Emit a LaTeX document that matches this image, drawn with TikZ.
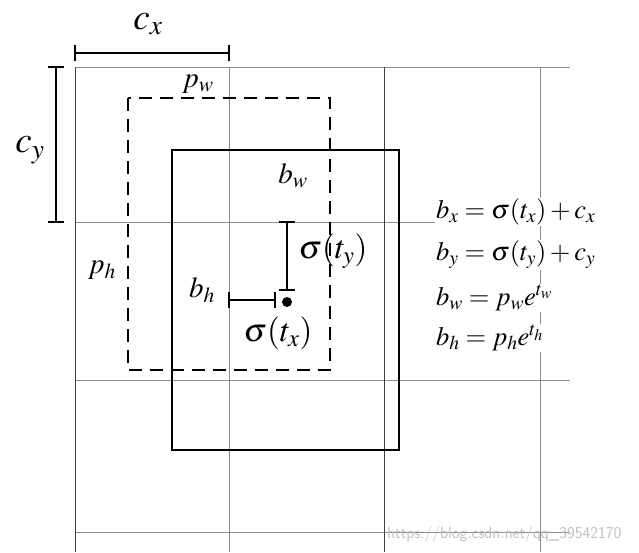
\documentclass[tikz,border=0pt]{standalone}
\usepackage{mathptmx}
\begin{document}
\begin{tikzpicture}[x=1pt,y=-1pt,
  grid/.style={draw=black!45,line width=0.9pt},
  gridd/.style={draw=black!75,line width=0.9pt},
  box/.style={draw=black,line width=2.5pt},
  dbox/.style={draw=black,line width=2.5pt,dash pattern=on 13pt off 8pt},
  dim/.style={draw=black,line width=2.2pt},
  lab/.style={inner sep=0pt,font=\fontsize{29}{31}\selectfont},
  eq/.style={inner sep=1pt,fill=white,anchor=west,font=\fontsize{26.5}{28}\selectfont}]
\useasboundingbox (0,0) rectangle (639,552);
% grid
\draw[grid] (75,222) -- (570,222);
\draw[grid] (75,380) -- (570,380);
\draw[grid] (75,532) -- (570,532);
\draw[grid] (75,67) -- (570,67);
\draw[grid] (229,67) -- (229,552);
\draw[gridd] (384,67) -- (384,552);
\draw[grid] (540,67) -- (540,552);
\draw[gridd] (75,67) -- (75,552);
% boxes
\draw[dbox] (128,98) rectangle (330,370);
\draw[box] (172,150) rectangle (399,450);
% dimension c_x
\coordinate (cxa) at (75,53);
\coordinate (cxb) at (229,53);
\draw[dim] (cxa) -- (cxb);
\draw[dim] ([yshift=-8]cxa) -- ([yshift=8]cxa);
\draw[dim] ([yshift=-8]cxb) -- ([yshift=8]cxb);
\node[lab,font=\fontsize{37}{39}\selectfont] (cx) at (148,24) {$c_x$};
% dimension c_y
\coordinate (cya) at (56,67);
\coordinate (cyb) at (56,222);
\draw[dim] (cya) -- (cyb);
\draw[dim] ([xshift=-8]cya) -- ([xshift=8]cya);
\draw[dim] ([xshift=-8]cyb) -- ([xshift=8]cyb);
\node[lab,font=\fontsize{37}{39}\selectfont] (cy) at (30,150) {$c_y$};
% center offsets
\node[circle,fill=black,inner sep=0pt,minimum size=10pt] (ctr) at (287,302) {};
\coordinate (tya) at (287,222);
\coordinate (tyb) at (287,290);
\draw[dim] (tya) -- (tyb);
\draw[dim] ([xshift=-8]tya) -- ([xshift=8]tya);
\draw[dim] ([xshift=-8]tyb) -- ([xshift=8]tyb);
\coordinate (txa) at (229,300);
\coordinate (txb) at (275,300);
\draw[dim] (txa) -- (txb);
\draw[dim] ([yshift=-8]txa) -- ([yshift=8]txa);
\draw[dim] ([yshift=-8]txb) -- ([yshift=8]txb);
% labels
\node[lab] (pw) at (198,84) {$p_w$};
\node[lab] (bw) at (293,176) {$b_w$};
\node[lab] (ph) at (102,270) {$p_h$};
\node[lab] (bh) at (202,290) {$b_h$};
\node[lab,font=\fontsize{33}{35}\selectfont] (sty) at (333,251) {$\sigma(t_y)$};
\node[lab,font=\fontsize{33}{35}\selectfont] (stx) at (278,333) {$\sigma(t_x)$};
% equations
\node[eq] (e1) at (435,212) {$b_x = \sigma(t_x) + c_x$};
\node[eq] (e2) at (435,255) {$b_y = \sigma(t_y) + c_y$};
\node[eq] (e3) at (435,298) {$b_w = p_w e^{t_w}$};
\node[eq] (e4) at (435,338) {$b_h = p_h e^{t_h}$};
% watermark
\node[inner sep=0pt,anchor=west,text=black!25,font=\sffamily\fontsize{16.5}{17}\selectfont] (wm) at (387,534) {https://blog.csdn.net/qq\_39542170};
\end{tikzpicture}
\end{document}
